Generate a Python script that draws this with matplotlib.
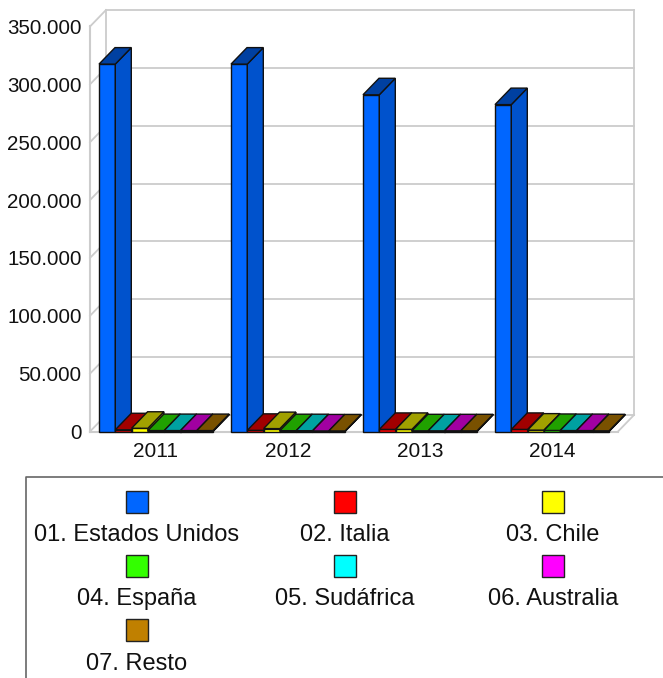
import matplotlib
matplotlib.use('Agg')
import matplotlib.pyplot as plt
import numpy as np
from matplotlib.colors import to_rgb
from matplotlib.patches import Polygon, Rectangle
from matplotlib.ticker import FuncFormatter

plt.rcParams['font.family'] = ['Liberation Sans', 'DejaVu Sans']

years = ['2011', '2012', '2013', '2014']
countries = ['01. Estados Unidos', '02. Italia', '03. Chile', '04. España',
             '05. Sudáfrica', '06. Australia', '07. Resto']
estados_unidos = [317500, 317500, 291000, 282500]
italia = [1500, 1000, 1800, 1800]
chile = [2800, 2500, 1800, 1200]
espana = [800, 700, 600, 900]
sudafrica = [800, 700, 600, 800]
australia = [800, 500, 600, 800]
resto = [800, 500, 600, 600]
series = [estados_unidos, italia, chile, espana, sudafrica, australia, resto]
colors = ['#0066ff', '#ff0000', '#ffff00', '#33ff00', '#00ffff', '#ff00ff', '#c08000']
y_ticks = [0, 50000, 100000, 150000, 200000, 250000, 300000, 350000]

W, H = 663, 678
fig = plt.figure(figsize=(W / 100, H / 100), dpi=100)
ax = fig.add_axes([90 / W, (H - 431.5) / H, 528 / W, 405 / H])
ax.set_xlim(0, 4)
ax.set_ylim(0, 350000)

# depth of the fake 3d, one bar wide
bar_w = 16.3 / 132
depth_x = 16 / 132
depth_y = 16.5 / (405 / 350000)
wall = '#cccccc'

# back wall, side wall and floor
for t in y_ticks:
    ax.plot([0, depth_x], [t, t + depth_y], color=wall, lw=1.3, clip_on=False, zorder=1)
    ax.plot([depth_x, 4 + depth_x], [t + depth_y, t + depth_y], color=wall, lw=1.3, clip_on=False, zorder=1)
ax.plot([0, 0], [0, 350000], color=wall, lw=1.5, clip_on=False, zorder=1)
ax.plot([depth_x, depth_x], [depth_y, 350000 + depth_y], color=wall, lw=1.3, clip_on=False, zorder=1)
ax.plot([4 + depth_x, 4 + depth_x], [depth_y, 350000 + depth_y], color=wall, lw=1.3, clip_on=False, zorder=1)
ax.plot([0, 4], [0, 0], color=wall, lw=1.5, clip_on=False, zorder=1)
ax.plot([4, 4 + depth_x], [0, depth_y], color=wall, lw=1.3, clip_on=False, zorder=1)

def shade(color, f):
    return tuple(c * f for c in to_rgb(color))

z = 2
for g in range(len(years)):
    for s, (values, color) in enumerate(zip(series, colors)):
        left = g + 9 / 132 + s * bar_w
        right = left + bar_w
        v = values[g]
        ax.bar(left, v, bar_w, align='edge', color=color, edgecolor='#111111', linewidth=1,
               clip_on=False, zorder=z)
        side = [(right, 0), (right + depth_x, depth_y), (right + depth_x, v + depth_y), (right, v)]
        top = [(left, v), (right, v), (right + depth_x, v + depth_y), (left + depth_x, v + depth_y)]
        ax.add_patch(Polygon(side, closed=True, facecolor=shade(color, 0.8), edgecolor='#111111',
                             linewidth=1, clip_on=False, zorder=z))
        ax.add_patch(Polygon(top, closed=True, facecolor=shade(color, 0.63), edgecolor='#111111',
                             linewidth=1, clip_on=False, zorder=z))
        z += 1

for spine in ax.spines.values():
    spine.set_visible(False)
ax.patch.set_visible(False)
ax.set_xticks(np.arange(len(years)) + 0.5)
ax.set_xticklabels(years, fontsize=15, color='#111111')
ax.set_yticks(y_ticks)
ax.yaxis.set_major_formatter(FuncFormatter(lambda v, p: f'{int(v):,}'.replace(',', '.')))
ax.tick_params(axis='y', length=0, pad=6, labelsize=14.8, labelcolor='#111111')
ax.tick_params(axis='x', length=0, pad=7.5)

# legend panel, drawn in pixel coordinates
leg = fig.add_axes([0, 0, 1, 1], zorder=-1)
leg.set_xlim(0, W)
leg.set_ylim(H, 0)
leg.axis('off')
leg.plot([25.5, 25.5, W], [H, 476.5, 476.5], color='#666666', lw=1.2, clip_on=False)
for i, (name, color) in enumerate(zip(countries, colors)):
    cx = 137 + (i % 3) * 208
    cy = 501.5 + (i // 3) * 64.3
    leg.add_patch(Rectangle((cx - 11, cy - 11), 22, 22, facecolor=color, edgecolor='#222222', lw=1))
    leg.text(cx, cy + 33.5, name, ha='center', va='center', fontsize=17, color='#111111')

fig.savefig('out.png', dpi=100)
